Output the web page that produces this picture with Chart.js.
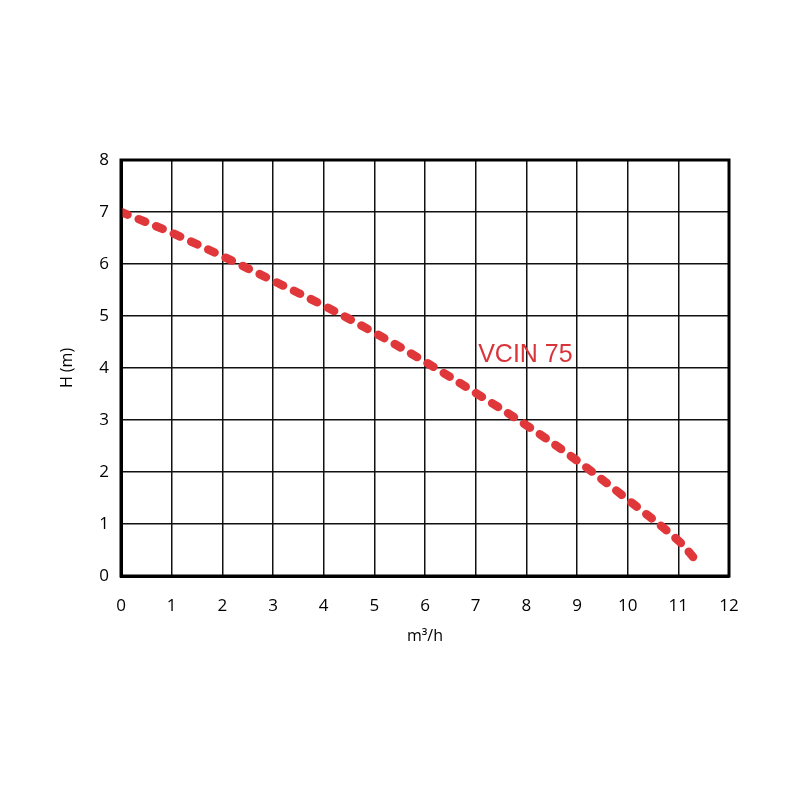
<!DOCTYPE html>
<html>
<head>
<meta charset="utf-8">
<script src="https://cdn.jsdelivr.net/npm/chart.js@4/dist/chart.umd.min.js"></script>
<style>
html,body{margin:0;padding:0;background:#fff;}
#wrap{width:800px;height:800px;}
</style>
</head>
<body>
<div id="wrap"><canvas id="c" width="800" height="800"></canvas></div>
<script>
const flowRates = [0, 1, 2, 3, 4, 5, 6, 7, 8, 9, 10, 11, 11.35];
const heads = [7.0, 6.6, 6.15, 5.68, 5.2, 4.68, 4.12, 3.52, 2.9, 2.22, 1.47, 0.68, 0.3];
const seriesLabel = 'VCIN 75';
const labelPos = {x: 7.05, y: 4.25};
const xTitle = 'm³/h';
const yTitle = 'H (m)';

const red = '#e0383a';

const borderPlugin = {
  id: 'frame',
  afterDatasetsDraw(chart) {
    const {ctx, chartArea: a, scales} = chart;
    ctx.save();
    ctx.strokeStyle = '#000';
    ctx.lineWidth = 3;
    ctx.strokeRect(a.left, a.top, a.right - a.left, a.bottom - a.top);
    ctx.fillStyle = '#d8343a';
    ctx.font = '25px "Liberation Sans", Arial, sans-serif';
    ctx.textAlign = 'left';
    ctx.textBaseline = 'middle';
    ctx.fillText(seriesLabel, scales.x.getPixelForValue(labelPos.x), scales.y.getPixelForValue(labelPos.y));
    ctx.restore();
  }
};

new Chart(document.getElementById('c'), {
  type: 'line',
  data: {
    datasets: [{
      label: seriesLabel,
      data: flowRates.map((x, i) => ({x, y: heads[i]})),
      borderColor: red,
      borderWidth: 8.5,
      borderDash: [7, 12],
      borderCapStyle: 'round',
      pointRadius: 0,
      tension: 0.4,
      fill: false
    }]
  },
  options: {
    responsive: false,
    animation: false,
    devicePixelRatio: 1,
    layout: {padding: {left: 58, right: 71, top: 160, bottom: 150}},
    plugins: {legend: {display: false}, tooltip: {enabled: false}},
    scales: {
      x: {
        type: 'linear', min: 0, max: 12,
        ticks: {stepSize: 1, color: '#000', font: {family: '"Open Sans", sans-serif', size: 17}, padding: 20},
        grid: {color: '#111', lineWidth: 1.5, drawTicks: false},
        border: {color: '#000', width: 3},
        title: {display: true, text: xTitle, color: '#000', font: {family: '"Open Sans", sans-serif', size: 16}, padding: {top: 6}},
        afterFit(s) { s.height = 74; }
      },
      y: {
        min: 0, max: 8,
        ticks: {stepSize: 1, color: '#000', font: {family: '"Open Sans", sans-serif', size: 17}, padding: 12},
        grid: {color: '#111', lineWidth: 1.5, drawTicks: false},
        border: {color: '#000', width: 3},
        title: {display: true, text: yTitle, color: '#000', font: {family: '"Open Sans", sans-serif', size: 16}, padding: 0},
        afterFit(s) { s.width = 63; }
      }
    }
  },
  plugins: [borderPlugin]
});
</script>
</body>
</html>
